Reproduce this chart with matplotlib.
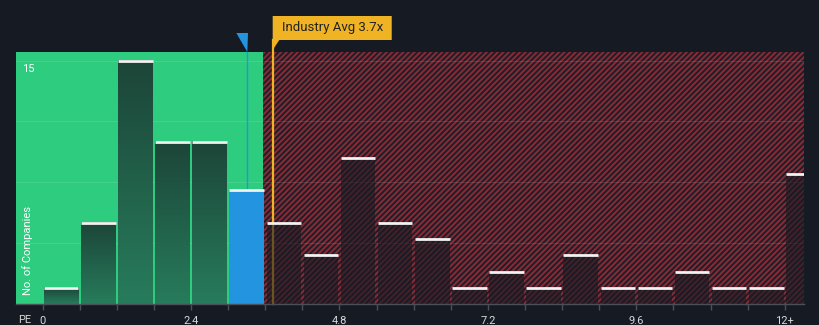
import matplotlib
matplotlib.use('Agg')
import matplotlib.pyplot as plt
import numpy as np
from matplotlib.patches import Polygon, Rectangle
from matplotlib.colors import LinearSegmentedColormap
import matplotlib.transforms as mtransforms

plt.rcParams['font.family'] = ['Roboto', 'DejaVu Sans']
plt.rcParams['hatch.linewidth'] = 1.5

# ---- data ----
bin_lefts = [0.0, 0.6, 1.2, 1.8, 2.4, 3.0, 3.6, 4.2, 4.8, 5.4, 6.0,
             6.6, 7.2, 7.8, 8.4, 9.0, 9.6, 10.2, 10.8, 11.4, 12.0]
counts = [1, 5, 15, 10, 10, 7, 5, 3, 9, 5, 4, 1, 2, 1, 3, 1, 1, 2, 1, 1, 8]
bin_width = 0.6
tick_values = [0, 2.4, 4.8, 7.2, 9.6, 12.0]
tick_labels = ['0', '2.4', '4.8', '7.2', '9.6', '12+']
company_pe = 3.31
industry_avg = 3.73
fair_limit = 3.57
y_grid = [3.75, 7.5, 11.25, 15]
x_range = (-0.43, 12.31)
y_range = (0, 15.53)

BG = '#151a23'
GREEN = '#2ecc7f'
BLUE = '#2394df'
ORANGE = '#f0b323'
HATCH = '#862a35'

fig = plt.figure(figsize=(8.2, 3.25), dpi=100, facecolor=BG)
ax = fig.add_axes([16 / 820, 21 / 325, 788 / 820, 252 / 325])
ax.set_facecolor(BG)

# regions
ax.axvspan(x_range[0], fair_limit, color=GREEN, lw=0, zorder=0)
ax.axvspan(fair_limit, x_range[1], facecolor='#1b1d27', edgecolor=HATCH,
           hatch='//////', lw=0, zorder=0)

for y in y_grid:
    ax.axhline(y, color='white', alpha=0.11, lw=0.8, zorder=1)

# industry avg line (below bars)
trans = mtransforms.blended_transform_factory(ax.transData, ax.transAxes)
ax.plot([industry_avg, industry_avg], [0, 1 + 12 / 252], color=ORANGE,
        lw=1.6, transform=trans, clip_on=False, zorder=1.5)

cmap = LinearSegmentedColormap.from_list('g', ['#277c5c', '#1c4538'])
grad = np.linspace(0, 1, 256).reshape(-1, 1)
gap = 0.02
for left, c in zip(bin_lefts, counts):
    x0, x1 = left + gap, left + bin_width - gap
    if left <= company_pe < left + bin_width:
        ax.add_patch(Rectangle((x0, 0), x1 - x0, c, facecolor=BLUE, lw=0, zorder=2))
    elif left + bin_width <= fair_limit + 0.05:
        ax.imshow(grad, extent=[x0, x1, 0, c], origin='lower', aspect='auto',
                  cmap=cmap, zorder=2, interpolation='bilinear')
    else:
        ax.add_patch(Rectangle((x0, 0), x1 - x0, c, facecolor='#171a22',
                               alpha=0.62, lw=0, zorder=2))
    ax.hlines(c, x0, x1, color='#f2f2f2', lw=2, zorder=4)

# company line and marker
ax.axvline(company_pe, ymin=counts[5] / y_range[1], ymax=1, color=BLUE, lw=1, zorder=3)
ax.add_patch(Polygon([(company_pe - 0.178, 1 + 19 / 252),
                      (company_pe + 0.011, 1 + 19 / 252),
                      (company_pe, 1.0)], closed=True, facecolor=BLUE, lw=0,
                     transform=trans, clip_on=False, zorder=5))

# industry avg label
bw = 119 / 61.83
bx = industry_avg - 0.01
by0, by1 = 1 + 12 / 252, 1 + 36 / 252
ax.add_patch(Polygon([(bx, by1), (bx + bw, by1), (bx + bw, by0),
                      (industry_avg + 6 / 61.83, by0), (bx, 1 + 2 / 252)],
                     closed=True, facecolor=ORANGE, lw=0, transform=trans,
                     clip_on=False, zorder=5))
ax.text(bx + bw / 2, (by0 + by1) / 2, 'Industry Avg 3.7x',
        transform=trans, ha='center', va='center', fontsize=9.5,
        color='#222222', zorder=6)

# axes styling
ax.set_xlim(*x_range)
ax.set_ylim(*y_range)
for s in ['top', 'right', 'left']:
    ax.spines[s].set_visible(False)
ax.spines['bottom'].set_color('#4a4f58')
ax.spines['bottom'].set_linewidth(1)
ax.spines['bottom'].set_zorder(6)
edges = bin_lefts
ax.set_xticks(edges)
ax.set_xticklabels([tick_labels[tick_values.index(e)] if e in tick_values else ''
                    for e in edges])
ax.tick_params(axis='x', length=4, width=1, color='#4a4f58', labelcolor='#d8d8d8',
               labelsize=8, pad=5)
ax.set_yticks([])

ytrans = mtransforms.blended_transform_factory(ax.transAxes, ax.transData)
ax.text(12 / 788, 14.5, '15', transform=ytrans,
        ha='center', va='center', fontsize=8, color='white', zorder=6)
ax.text(12 / 788, 0.214, 'No. of Companies', transform=ax.transAxes, rotation=90,
        ha='center', va='center', fontsize=8, color='white', zorder=6)
fig.text(18 / 820, 1 - 320 / 325, 'PE', ha='left', va='center', fontsize=8,
         color='#d8d8d8')

fig.savefig('out.png', dpi=100, facecolor=BG)
